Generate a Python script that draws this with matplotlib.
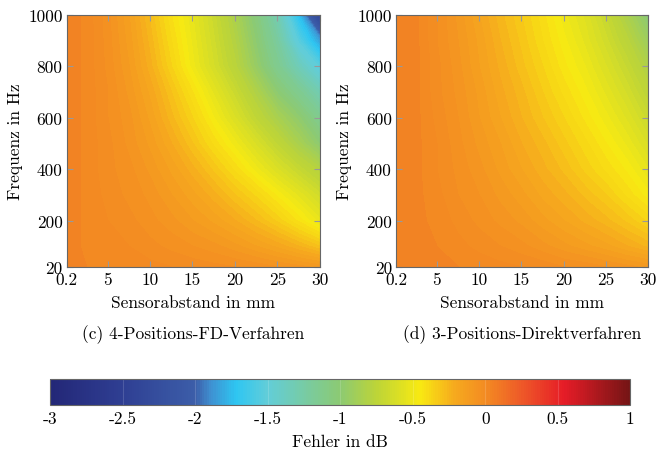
import numpy as np
import matplotlib.pyplot as plt
from matplotlib.colors import LinearSegmentedColormap

plt.rcParams['font.family'] = ['cmr10', 'DejaVu Serif']
plt.rcParams['axes.formatter.use_mathtext'] = True

# sensor spacing (mm) and frequency (Hz) grid
abstand = [0.2, 2.5, 5, 7.5, 10, 12.5, 15, 17.5, 20, 22.5, 25, 27.5, 30]
frequenz = [20, 100, 200, 300, 400, 500, 600, 700, 800, 900, 1000]

# error in dB, rows = frequency, columns = spacing
fehler_fd = [
    [0.05, 0.03, 0.02, 0.02, 0.01, 0.00, -0.01, -0.02, -0.03, -0.04, -0.06, -0.08, -0.10],
    [0.05, 0.02, 0.01, 0.00, -0.02, -0.04, -0.06, -0.08, -0.11, -0.15, -0.19, -0.24, -0.30],
    [0.05, 0.02, 0.00, -0.02, -0.05, -0.08, -0.12, -0.16, -0.21, -0.27, -0.34, -0.43, -0.53],
    [0.05, 0.02, -0.01, -0.04, -0.07, -0.12, -0.17, -0.23, -0.30, -0.37, -0.46, -0.55, -0.65],
    [0.05, 0.02, -0.02, -0.05, -0.10, -0.16, -0.23, -0.31, -0.40, -0.50, -0.60, -0.70, -0.80],
    [0.05, 0.02, -0.02, -0.07, -0.13, -0.21, -0.30, -0.40, -0.50, -0.61, -0.73, -0.86, -1.00],
    [0.05, 0.02, -0.03, -0.08, -0.16, -0.26, -0.36, -0.48, -0.60, -0.73, -0.86, -0.98, -1.15],
    [0.05, 0.02, -0.03, -0.10, -0.19, -0.30, -0.42, -0.55, -0.68, -0.83, -1.00, -1.15, -1.32],
    [0.05, 0.02, -0.04, -0.12, -0.23, -0.36, -0.50, -0.63, -0.77, -0.95, -1.15, -1.35, -1.55],
    [0.05, 0.02, -0.045, -0.135, -0.255, -0.39, -0.52, -0.655, -0.81, -1.00, -1.23, -1.55, -1.85],
    [0.05, 0.02, -0.05, -0.15, -0.28, -0.42, -0.54, -0.68, -0.85, -1.05, -1.32, -1.75, -2.45],
]

fehler_direkt = [
    [0.06, 0.05, 0.04, 0.03, 0.02, 0.01, 0.00, -0.01, -0.03, -0.04, -0.06, -0.08, -0.10],
    [0.06, 0.05, 0.03, 0.01, -0.01, -0.03, -0.05, -0.08, -0.11, -0.14, -0.17, -0.21, -0.25],
    [0.06, 0.04, 0.02, -0.01, -0.04, -0.07, -0.10, -0.14, -0.18, -0.22, -0.26, -0.31, -0.37],
    [0.06, 0.04, 0.01, -0.03, -0.06, -0.10, -0.14, -0.19, -0.23, -0.28, -0.33, -0.40, -0.47],
    [0.06, 0.04, 0.00, -0.04, -0.08, -0.13, -0.18, -0.23, -0.28, -0.34, -0.40, -0.46, -0.54],
    [0.06, 0.04, 0.00, -0.05, -0.10, -0.15, -0.21, -0.26, -0.32, -0.38, -0.45, -0.52, -0.61],
    [0.06, 0.04, -0.01, -0.06, -0.12, -0.18, -0.24, -0.30, -0.36, -0.43, -0.50, -0.58, -0.68],
    [0.06, 0.04, -0.02, -0.07, -0.13, -0.20, -0.26, -0.33, -0.40, -0.47, -0.55, -0.64, -0.75],
    [0.06, 0.04, -0.02, -0.08, -0.15, -0.22, -0.29, -0.36, -0.44, -0.51, -0.60, -0.70, -0.83],
    [0.06, 0.04, -0.03, -0.09, -0.16, -0.24, -0.31, -0.39, -0.47, -0.55, -0.65, -0.77, -0.92],
    [0.06, 0.04, -0.03, -0.10, -0.18, -0.26, -0.33, -0.41, -0.50, -0.58, -0.70, -0.85, -1.02],
]

x_ticks = [0.2, 5, 10, 15, 20, 25, 30]
y_ticks = [20, 200, 400, 600, 800, 1000]
cb_ticks = [-3, -2.5, -2, -1.5, -1, -0.5, 0, 0.5, 1]
titles = ['(c) 4-Positions-FD-Verfahren', '(d) 3-Positions-Direktverfahren']

vmin, vmax = -3, 1
stops = [
    (-3.0, '#232777'), (-2.5, '#2f3f93'), (-2.0, '#3c5ea9'), (-1.9, '#3f8fd0'),
    (-1.72, '#2ec6f2'), (-1.5, '#62cdd8'), (-1.0, '#8cca72'), (-0.75, '#bcd438'),
    (-0.45, '#f8ea12'), (-0.2, '#f6a81e'), (0.0, '#f38c22'), (0.25, '#ee5a28'),
    (0.55, '#e61c27'), (1.0, '#751515'),
]
cmap = LinearSegmentedColormap.from_list(
    'fehler', [((v - vmin) / (vmax - vmin), c) for v, c in stops])

fig = plt.figure(figsize=(6.69, 4.52), dpi=100)
fs = 12.5
levels = np.arange(vmin, vmax + 0.001, 0.03)

X, Y = np.meshgrid(abstand, frequenz)
axes = [fig.add_axes([0.100, 0.407, 0.378, 0.558]),
        fig.add_axes([0.592, 0.407, 0.377, 0.558])]
for ax, data, title in zip(axes, [fehler_fd, fehler_direkt], titles):
    cs = ax.contourf(X, Y, np.array(data), levels=levels, cmap=cmap,
                     vmin=vmin, vmax=vmax)
    # fill the hairline gaps between neighbouring bands
    cs.set_edgecolor('face')
    cs.set_linewidth(0.5)
    ax.set_xlim(0.2, 30)
    ax.set_ylim(20, 1000)
    ax.set_xticks(x_ticks)
    ax.set_xticklabels([str(t) for t in x_ticks], fontsize=fs)
    ax.set_yticks(y_ticks)
    ax.set_yticklabels([str(t) for t in y_ticks], fontsize=fs)
    ax.tick_params(direction='in', top=True, right=True, length=4,
                   color='#999999', pad=3)
    for s in ax.spines.values():
        s.set_color('#666666')
        s.set_linewidth(0.8)
        s.set_zorder(5)
    ax.set_xlabel('Sensorabstand in mm', fontsize=fs, labelpad=6)
    ax.set_ylabel('Frequenz in Hz', fontsize=fs, labelpad=4)
    ax.text(0.5, -0.227, title, transform=ax.transAxes, ha='center',
            va='top', fontsize=fs)

cax = fig.add_axes([0.075, 0.102, 0.867, 0.058])
sm = plt.cm.ScalarMappable(cmap=cmap, norm=plt.Normalize(vmin, vmax))
cb = fig.colorbar(sm, cax=cax, orientation='horizontal')
cb.set_ticks(cb_ticks)
cb.set_ticklabels([('%g' % t) for t in cb_ticks], fontsize=fs)
cb.ax.tick_params(direction='in', length=25, color=(1, 1, 1, 0.15), pad=4)
cb.outline.set_edgecolor('#666666')
cb.outline.set_linewidth(0.8)
cb.set_label('Fehler in dB', fontsize=fs, labelpad=6)

fig.savefig('out.png', dpi=100)
